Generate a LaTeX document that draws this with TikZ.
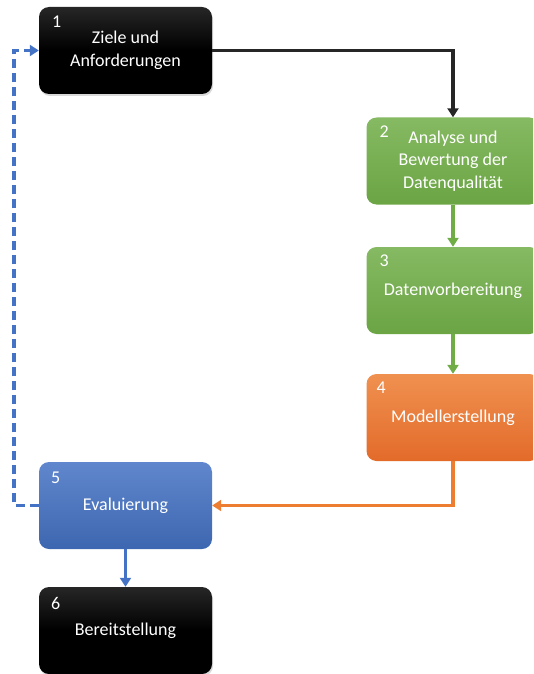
\documentclass[tikz,border=0pt]{standalone}
\usepackage{fontspec}
\setmainfont{Carlito}
\usetikzlibrary{arrows.meta,shadows}
\definecolor{cgreen}{HTML}{70AD47}
\definecolor{corange}{HTML}{ED7D31}
\definecolor{cblue}{HTML}{4472C4}
\tikzset{
  box/.style={rounded corners=10pt, minimum width=173pt, minimum height=87pt,
    inner sep=0pt, align=center, text=white, font=\fontsize{18}{22.5}\selectfont},
  blackbox/.style={box, top color=black!85, bottom color=black, middle color=black,
    drop shadow={shadow xshift=1pt,shadow yshift=-2pt,opacity=0.3}},
  greenbox/.style={box, top color=cgreen!85!white, bottom color=cgreen!95!black},
  orangebox/.style={box, top color=corange!85!white, bottom color=corange!90!red!95!black},
  bluebox/.style={box, top color=cblue!85!white, bottom color=cblue!90!black},
  num/.style={anchor=north west, inner sep=0pt, text=white, font=\fontsize{18}{18}\selectfont},
  conn/.style={line width=3.5pt, -{Triangle[length=9pt,width=11pt]}},
}
\begin{document}
\begin{tikzpicture}[x=1pt,y=-1pt]
\useasboundingbox (0,0) rectangle (533,674);
\clip (0,0) rectangle (533,674);
\node[blackbox] (b1) at (125.5,50.5) {Ziele und\\Anforderungen};
\node[greenbox] (b2) at (453,161) {Analyse und\\Bewertung der\\Datenqualität};
\node[greenbox] (b3) at (453,290.5) {Datenvorbereitung};
\node[orangebox] (b4) at (453,417.5) {Modellerstellung};
\node[bluebox] (b5) at (125.5,505.5) {Evaluierung};
\node[blackbox] (b6) at (125.5,630.5) {Bereitstellung};
\node[num] (n1) at ([xshift=13pt,yshift=-9pt]b1.north west) {1};
\node[num] (n2) at ([xshift=13pt,yshift=-8pt]b2.north west) {2};
\node[num] (n3) at ([xshift=13pt,yshift=-8pt]b3.north west) {3};
\node[num] (n4) at ([xshift=10pt,yshift=-8pt]b4.north west) {4};
\node[num] (n5) at ([xshift=12pt,yshift=-10pt]b5.north west) {5};
\node[num] (n6) at ([xshift=12pt,yshift=-10pt]b6.north west) {6};
\draw[conn, black!85] (b1.east) -| (b2.north);
\draw[conn, cgreen] (b2.south) -- (b3.north);
\draw[conn, cgreen] (b3.south) -- (b4.north);
\draw[conn, corange] (b4.south) |- (b5.east);
\draw[conn, cblue] (b5.south) -- (b6.north);
\coordinate (c1) at (14,505.5);
\coordinate (c2) at (14,50.5);
\draw[conn, cblue, dash pattern=on 9pt off 5pt] (b5.west) -- (c1) -- (c2) -- (b1.west);
\end{tikzpicture}
\end{document}
